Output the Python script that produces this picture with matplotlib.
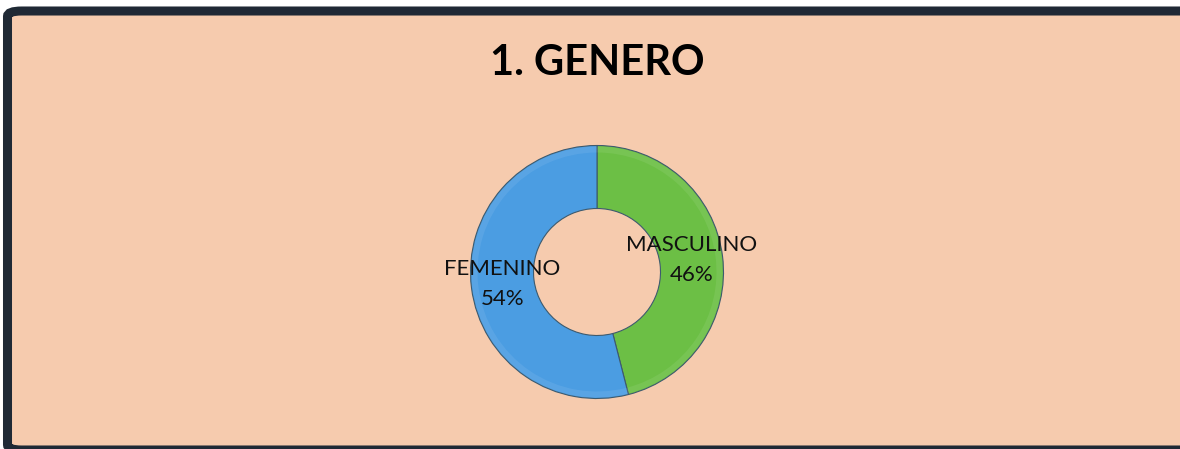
import matplotlib.pyplot as plt
from matplotlib.patches import FancyBboxPatch

categories = ["MASCULINO", "FEMENINO"]
percents = [46, 54]
colors = ["#6cbf45", "#4b9de2"]
title = "1. GENERO"

W, H = 1180, 449
fig = plt.figure(figsize=(W / 100, H / 100), dpi=100)
fig.patch.set_facecolor("white")

# panel background with dark rounded frame (runs off the right and bottom edges)
frame = FancyBboxPatch((7.5 / W, -1 / H), 1.2, (H - 11 + 1) / H,
                       boxstyle="round,pad=0,rounding_size=0.012",
                       transform=fig.transFigure, facecolor="#f6cbae",
                       edgecolor="#1f2935", linewidth=6.5, zorder=-5)
fig.patches.append(frame)

ax = fig.add_axes([0, 0, 1, 1], zorder=2)
ax.patch.set_alpha(0)
ax.axis("off")

cx, cy, R, ring = 597, H - 272, 126.5, 63
labels = [f"{c}\n{p}%" for c, p in zip(categories, percents)]
wedges, texts = ax.pie(percents, labels=labels, colors=colors,
                       center=(cx, cy), radius=R,
                       startangle=90, counterclock=False,
                       labeldistance=0.755,
                       wedgeprops=dict(width=ring, edgecolor="#3d5a6e", linewidth=0.8),
                       textprops=dict(fontsize=16, family=["Lato", "DejaVu Sans"],
                                      color="#111111", zorder=5))

# faint bevel highlight on the outer rim
ax.pie(percents, center=(cx, cy), radius=R - 1, startangle=90, counterclock=False,
       colors=["white"] * 2,
       wedgeprops=dict(width=6, alpha=0.08, linewidth=0))

ax.set_xlim(0, W)
ax.set_ylim(0, H)
ax.set_aspect("equal")
for t in texts:
    t.set_ha("center")
    t.set_va("center")
    t.set_linespacing(1.6)

fig.text(597 / W, 1 - 63 / H, title, ha="center", va="center",
         fontsize=30, fontweight="bold", family=["Lato", "DejaVu Sans"],
         zorder=3)

fig.savefig("out.png", dpi=100, facecolor=fig.get_facecolor())
